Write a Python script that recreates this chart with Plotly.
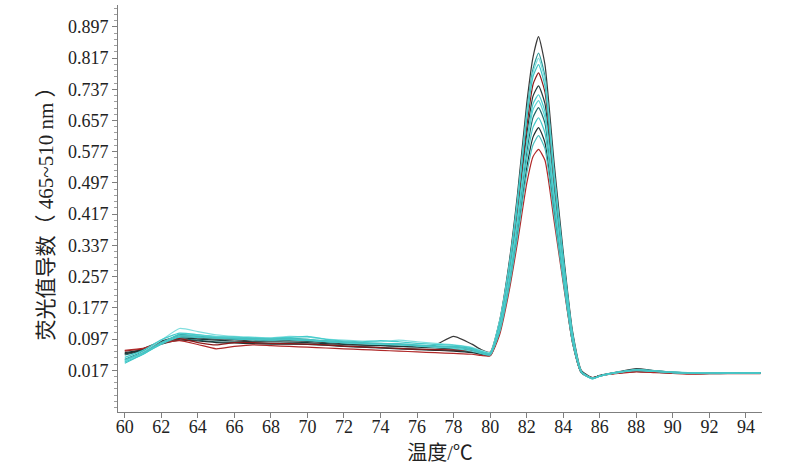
import plotly.graph_objects as go

# Temperature grid (°C)
temps = [60, 61, 62, 63, 64, 65, 66, 67, 68, 69, 70, 71, 72, 73, 74, 75, 76, 77, 78, 79, 79.5,
         80, 80.5, 81, 81.5, 82, 82.35, 82.65, 83, 83.5, 84, 84.5, 85, 85.6, 86,
         87, 88, 89, 90, 91, 92, 93, 94, 94.8]

# Melt-curve derivative series
c01 = [0.058, 0.072, 0.092, 0.103, 0.100, 0.097, 0.096, 0.092, 0.094, 0.093, 0.091, 0.088, 0.085, 0.082, 0.081, 0.079, 0.078, 0.082, 0.104, 0.084, 0.070,
       0.063, 0.14, 0.28, 0.47, 0.70, 0.82, 0.872, 0.80, 0.55, 0.32, 0.12, 0.016, -0.002, 0.004,
       0.013, 0.021, 0.016, 0.012, 0.010, 0.010, 0.011, 0.011, 0.011]
c02 = [0.045, 0.065, 0.088, 0.108, 0.104, 0.100, 0.098, 0.096, 0.097, 0.099, 0.096, 0.090, 0.088, 0.086, 0.085, 0.083, 0.080, 0.078, 0.077, 0.073, 0.066,
       0.061, 0.138, 0.275, 0.46, 0.68, 0.79, 0.830, 0.77, 0.53, 0.31, 0.115, 0.014, -0.003, 0.003,
       0.012, 0.019, 0.016, 0.012, 0.010, 0.009, 0.010, 0.010, 0.010]
c03 = [0.040, 0.064, 0.094, 0.124, 0.116, 0.108, 0.104, 0.102, 0.100, 0.104, 0.102, 0.097, 0.094, 0.092, 0.090, 0.094, 0.090, 0.086, 0.082, 0.076, 0.068,
       0.062, 0.14, 0.27, 0.45, 0.67, 0.78, 0.817, 0.76, 0.52, 0.30, 0.11, 0.013, -0.004, 0.002,
       0.011, 0.018, 0.015, 0.012, 0.011, 0.010, 0.010, 0.011, 0.010]
c04 = [0.035, 0.058, 0.085, 0.110, 0.108, 0.103, 0.102, 0.099, 0.097, 0.098, 0.095, 0.092, 0.089, 0.086, 0.084, 0.083, 0.081, 0.079, 0.078, 0.071, 0.064,
       0.060, 0.135, 0.265, 0.445, 0.66, 0.77, 0.800, 0.745, 0.51, 0.30, 0.11, 0.012, -0.005, 0.002,
       0.012, 0.017, 0.015, 0.011, 0.010, 0.009, 0.010, 0.010, 0.010]
c05 = [0.066, 0.072, 0.088, 0.098, 0.088, 0.082, 0.088, 0.088, 0.086, 0.085, 0.084, 0.082, 0.079, 0.077, 0.075, 0.073, 0.071, 0.070, 0.069, 0.066, 0.062,
       0.060, 0.13, 0.255, 0.43, 0.64, 0.75, 0.779, 0.73, 0.50, 0.29, 0.105, 0.012, -0.003, 0.002,
       0.010, 0.015, 0.013, 0.010, 0.008, 0.009, 0.009, 0.009, 0.009]
c06 = [0.062, 0.070, 0.090, 0.100, 0.097, 0.094, 0.092, 0.090, 0.090, 0.089, 0.088, 0.085, 0.083, 0.081, 0.080, 0.078, 0.076, 0.074, 0.072, 0.068, 0.061,
       0.057, 0.125, 0.25, 0.42, 0.62, 0.72, 0.746, 0.70, 0.48, 0.28, 0.10, 0.011, -0.003, 0.003,
       0.011, 0.016, 0.014, 0.011, 0.009, 0.009, 0.010, 0.010, 0.010]
c07 = [0.050, 0.068, 0.095, 0.112, 0.108, 0.102, 0.101, 0.100, 0.099, 0.101, 0.104, 0.096, 0.092, 0.090, 0.093, 0.090, 0.086, 0.083, 0.081, 0.074, 0.065,
       0.060, 0.125, 0.245, 0.41, 0.60, 0.70, 0.723, 0.68, 0.47, 0.275, 0.10, 0.012, -0.004, 0.002,
       0.012, 0.018, 0.015, 0.012, 0.011, 0.010, 0.011, 0.011, 0.010]
c08 = [0.042, 0.060, 0.086, 0.104, 0.106, 0.104, 0.100, 0.097, 0.095, 0.096, 0.094, 0.091, 0.087, 0.085, 0.083, 0.082, 0.079, 0.076, 0.073, 0.066, 0.060,
       0.056, 0.12, 0.24, 0.40, 0.59, 0.685, 0.708, 0.665, 0.46, 0.27, 0.10, 0.011, -0.004, 0.002,
       0.011, 0.016, 0.014, 0.011, 0.010, 0.009, 0.010, 0.010, 0.010]
c09 = [0.056, 0.068, 0.087, 0.097, 0.094, 0.090, 0.089, 0.087, 0.086, 0.085, 0.084, 0.082, 0.079, 0.077, 0.075, 0.073, 0.071, 0.069, 0.068, 0.064, 0.059,
       0.055, 0.118, 0.235, 0.39, 0.575, 0.665, 0.690, 0.65, 0.45, 0.265, 0.095, 0.010, -0.003, 0.003,
       0.010, 0.014, 0.012, 0.010, 0.009, 0.008, 0.009, 0.009, 0.009]
c10 = [0.038, 0.058, 0.084, 0.102, 0.101, 0.099, 0.097, 0.095, 0.094, 0.095, 0.093, 0.090, 0.088, 0.086, 0.085, 0.083, 0.080, 0.078, 0.076, 0.069, 0.061,
       0.057, 0.115, 0.23, 0.38, 0.555, 0.64, 0.664, 0.625, 0.44, 0.26, 0.095, 0.011, -0.005, 0.002,
       0.012, 0.017, 0.014, 0.011, 0.010, 0.009, 0.010, 0.010, 0.010]
c11 = [0.060, 0.068, 0.084, 0.094, 0.092, 0.088, 0.087, 0.085, 0.084, 0.084, 0.083, 0.081, 0.078, 0.076, 0.074, 0.072, 0.070, 0.068, 0.066, 0.062, 0.058,
       0.055, 0.112, 0.225, 0.37, 0.535, 0.615, 0.639, 0.60, 0.425, 0.25, 0.09, 0.010, -0.003, 0.003,
       0.010, 0.014, 0.012, 0.010, 0.009, 0.009, 0.009, 0.009, 0.009]
c12 = [0.044, 0.062, 0.088, 0.106, 0.104, 0.100, 0.099, 0.098, 0.097, 0.098, 0.096, 0.093, 0.090, 0.088, 0.086, 0.085, 0.082, 0.079, 0.077, 0.070, 0.062,
       0.058, 0.112, 0.22, 0.36, 0.52, 0.595, 0.618, 0.585, 0.415, 0.245, 0.09, 0.011, -0.004, 0.002,
       0.012, 0.017, 0.015, 0.012, 0.010, 0.009, 0.010, 0.010, 0.010]
c13 = [0.068, 0.073, 0.086, 0.093, 0.083, 0.072, 0.078, 0.082, 0.080, 0.078, 0.076, 0.074, 0.072, 0.070, 0.068, 0.066, 0.064, 0.062, 0.060, 0.058, 0.055,
       0.054, 0.105, 0.21, 0.345, 0.495, 0.565, 0.583, 0.555, 0.40, 0.24, 0.09, 0.010, -0.002, 0.003,
       0.009, 0.013, 0.011, 0.009, 0.007, 0.008, 0.008, 0.008, 0.008]

series = [c01, c06, c09, c11, c05, c13, c02, c03, c04, c07, c08, c10, c12]
colors = ["#3a3a3a", "#1e3c3c", "#1f6a6a", "#203030", "#8b1a1a", "#b02828",
          "#2a9a9a", "#80dede", "#3cc4c4", "#45cccc", "#5ad2d2", "#40c8c8", "#48c0c0"]

y_tickvals = [0.017, 0.097, 0.177, 0.257, 0.337, 0.417, 0.497, 0.577, 0.657, 0.737, 0.817, 0.897]
x_tickvals = list(range(60, 95, 2))

font_fam = "Liberation Serif, Noto Sans CJK SC, serif"

fig = go.Figure()
for ys, col in zip(series, colors):
    fig.add_trace(go.Scatter(x=temps, y=ys, mode="lines",
                             line=dict(color=col, width=1.2, shape="spline", smoothing=0.5),
                             showlegend=False, hoverinfo="skip"))

fig.update_layout(
    width=792, height=465,
    margin=dict(l=118, r=30, t=5, b=53),
    paper_bgcolor="white", plot_bgcolor="white",
    font=dict(family=font_fam, size=18, color="#222222"),
)
fig.update_xaxes(
    range=[59.63, 94.88], tickvals=x_tickvals, ticktext=[str(v) for v in x_tickvals],
    showgrid=False, zeroline=False, showline=True, linecolor="#7f7f7f", linewidth=1,
    ticks="outside", ticklen=5, tickcolor="#7f7f7f", ticklabelstandoff=-7,
    title=dict(text="温度/℃", font=dict(size=20), standoff=10),
    automargin=False,
)
fig.update_yaxes(
    range=[-0.090, 0.953], tickvals=y_tickvals, ticktext=[f"{v:.3f}" for v in y_tickvals],
    showgrid=False, zeroline=False, showline=True, linecolor="#7f7f7f", linewidth=1,
    ticks="outside", ticklen=5, tickcolor="#7f7f7f",
    minor=dict(dtick=0.016, tick0=0.017, ticks="outside", ticklen=3, tickcolor="#9f9f9f"),
    title=dict(text="荧光值导数（ 465~510 nm ）", font=dict(size=21), standoff=8),
    automargin=False,
)

fig.write_html("out.html", config={"displayModeBar": False},
               post_script="document.body.style.margin='0';")
